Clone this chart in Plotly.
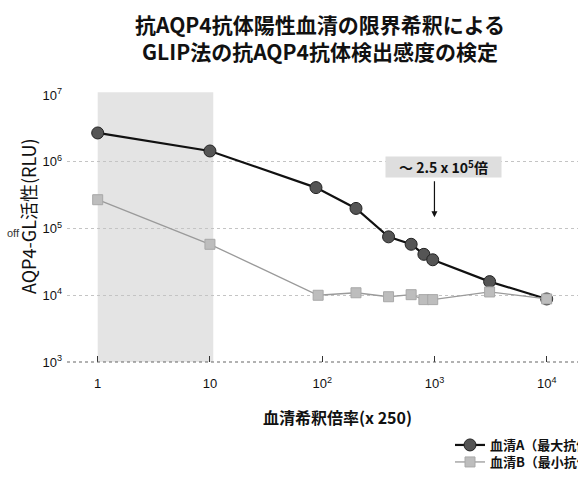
import plotly.graph_objects as go
import math

# Serum dilution (x250) and AQP4-GL activity (RLU)
dilution_a = [1, 10, 88, 200, 390, 620, 805, 965, 3100, 10000]
activity_a = [2.7e6, 1.45e6, 4.1e5, 2.0e5, 7.5e4, 5.8e4, 4.1e4, 3.4e4, 1.6e4, 8.8e3]

dilution_b = [1, 10, 92, 200, 390, 620, 805, 965, 3100, 10000]
activity_b = [2.7e5, 5.8e4, 1.0e4, 1.09e4, 9.5e3, 1.02e4, 8.6e3, 8.6e3, 1.12e4, 8.8e3]

name_a = "血清A（最大抗体価）"
name_b = "血清B（最小抗体価）"

x_ticks = [1, 10, 100, 1000, 10000]
x_ticktext = ["1", "10", "10<sup>2</sup>", "10<sup>3</sup>", "10<sup>4</sup>"]
y_ticks = [1e3, 1e4, 1e5, 1e6, 1e7]
y_ticktext = ["10<sup>3</sup>", "10<sup>4</sup>", "10<sup>5</sup>", "10<sup>6</sup>", "10<sup>7</sup>"]

fold_label = "〜 2.5 x 10<sup>5</sup>倍"
fold_dilution = 1000

FONT = "Liberation Sans, Arial, Noto Sans CJK JP, sans-serif"
CJK = "Noto Sans CJK JP, Liberation Sans, sans-serif"

W, H = 578, 482
L, R, T, B = 67, 0, 95, 120


def px_x(px):
    return (px - L) / (W - L - R)


def px_y(py):
    return (H - B - py) / (H - T - B)


fig = go.Figure()

fig.add_trace(go.Scatter(
    x=dilution_a, y=activity_a, name=name_a, mode="lines+markers",
    legend="legend",
    line=dict(color="#111111", width=2.2),
    marker=dict(symbol="circle", size=12, color="#555555",
                line=dict(color="#222222", width=1)),
))
fig.add_trace(go.Scatter(
    x=dilution_b, y=activity_b, name=name_b, mode="lines+markers",
    legend="legend2",
    line=dict(color="#9a9a9a", width=1.3),
    marker=dict(symbol="square", size=10, color="#bdbdbd",
                line=dict(color="#a8a8a8", width=1)),
))

# shaded low-dilution band
fig.add_shape(type="rect", xref="x", yref="paper", x0=1, x1=10.7,
              y0=0, y1=1.01, fillcolor="#e4e4e4", line=dict(width=0), layer="below")
# dotted baseline
fig.add_shape(type="line", xref="paper", yref="paper", x0=0, x1=1, y0=0, y1=0,
              line=dict(color="#666666", width=1.2, dash="dot"))

# fold-difference label and arrow
fig.add_annotation(x=3.081, y=5.92, xref="x", yref="y",
                   xanchor="center", yanchor="middle",
                   text=fold_label, showarrow=False, bgcolor="#dedede",
                   width=113, height=18, align="center",
                   font=dict(family=CJK, size=14, color="#111111", weight="bold"))
fig.add_annotation(x=math.log10(fold_dilution), y=5.17, xref="x", yref="y",
                   ax=math.log10(fold_dilution), ay=5.73, axref="x", ayref="y",
                   text="", showarrow=True, arrowhead=2, arrowsize=1,
                   arrowwidth=1.2, arrowcolor="#111111")

# axis titles and side note
fig.add_annotation(x=px_x(28), y=px_y(216), xref="paper", yref="paper",
                   xanchor="center", yanchor="middle", text="AQP4-GL活性(RLU)",
                   showarrow=False, textangle=-90,
                   font=dict(family=CJK, size=18, color="#111111"))
fig.add_annotation(x=px_x(13), y=px_y(233), xref="paper", yref="paper",
                   xanchor="center", yanchor="middle", text="off", showarrow=False,
                   font=dict(family=FONT, size=11, color="#333333"))
fig.add_annotation(x=px_x(337), y=px_y(417), xref="paper", yref="paper",
                   xanchor="center", yanchor="middle", text="血清希釈倍率(x 250)",
                   showarrow=False,
                   font=dict(family=CJK, size=16, color="#111111", weight="bold"))

legend_style = dict(xanchor="left", yanchor="top", bgcolor="rgba(0,0,0,0)",
                    itemwidth=30,
                    font=dict(family=CJK, size=13, color="#111111", weight="bold"))

fig.update_layout(
    width=W, height=H,
    margin=dict(l=L, r=R, t=T, b=B, autoexpand=False),
    paper_bgcolor="white", plot_bgcolor="white",
    title=dict(text="抗AQP4抗体陽性血清の限界希釈による<br>GLIP法の抗AQP4抗体検出感度の検定",
               x=320 / W, xanchor="center", xref="container",
               y=1 - 33 / H, yanchor="middle", yref="container",
               font=dict(family=CJK, size=21, color="#111111", weight="bold")),
    font=dict(family=FONT, color="#111111"),
    showlegend=True,
    legend=dict(x=px_x(450), y=px_y(430), **legend_style),
    legend2=dict(x=px_x(450), y=px_y(447), **legend_style),
    xaxis=dict(type="log", range=[(L - 97.7) / 112.25, (W - 97.7) / 112.25],
               tickvals=x_ticks, ticktext=x_ticktext, showgrid=False,
               zeroline=False, showline=False, ticks="inside", ticklen=6,
               tickcolor="#333333", tickwidth=1, ticklabelstandoff=12,
               tickfont=dict(family=FONT, size=13, color="#111111")),
    yaxis=dict(type="log", range=[3, 7], tickvals=y_ticks, ticktext=y_ticktext,
               showgrid=True, gridcolor="#c4c4c4", griddash="dot", gridwidth=1,
               zeroline=False, showline=False, ticks="", ticklabelstandoff=4,
               tickfont=dict(family=FONT, size=13, color="#111111")),
)

fig.write_html("out.html")
